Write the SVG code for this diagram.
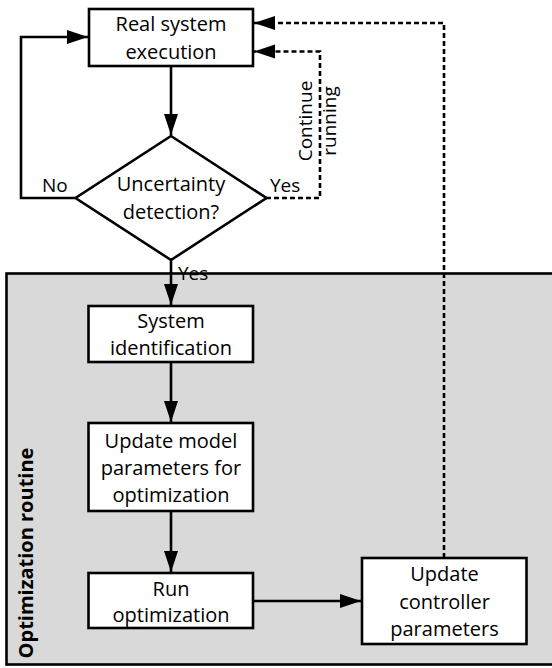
<svg xmlns="http://www.w3.org/2000/svg" width="552" height="668" viewBox="0 0 552 668">
<defs>
<style>
.box{fill:#fff;stroke:#000;stroke-width:2.6}
.t{font-family:"Open Sans","Liberation Sans",sans-serif;font-size:20px;fill:#000;text-anchor:middle}
.lbl{font-family:"Open Sans","Liberation Sans",sans-serif;font-size:19px;fill:#000}
.ln{fill:none;stroke:#000;stroke-width:2.6}
.dash{fill:none;stroke:#000;stroke-width:2.6;stroke-dasharray:5 3}
</style>
<marker id="ah" markerUnits="userSpaceOnUse" markerWidth="24" markerHeight="16" refX="21" refY="7" orient="auto">
<path d="M0,0 L21,7 L0,14 z" fill="#000"/>
</marker>
</defs>
<g id="optimization-routine">
<rect x="6.5" y="273.5" width="550" height="391" fill="#d9d9d9" stroke="#000" stroke-width="2.6"/>
<text transform="translate(33,553) rotate(-90)" font-family="Open Sans,Liberation Sans,sans-serif" font-size="20" font-weight="bold" text-anchor="middle">Optimization routine</text>
</g>
<g id="connectors">
<line class="ln" x1="171" y1="66" x2="171" y2="135" marker-end="url(#ah)"/>
<polyline class="ln" points="75,198 21,198 21,37 88,37" marker-end="url(#ah)"/>
<polyline class="dash" points="266,198 320,198 320,51.5 254,51.5" marker-end="url(#ah)"/>
<line class="ln" x1="171" y1="260" x2="171" y2="305" marker-end="url(#ah)"/>
<line class="ln" x1="171" y1="362" x2="171" y2="422" marker-end="url(#ah)"/>
<line class="ln" x1="171" y1="511" x2="171" y2="572" marker-end="url(#ah)"/>
<line class="ln" x1="253" y1="601" x2="361" y2="601" marker-end="url(#ah)"/>
<polyline class="dash" points="444,558 444,23 254,23" marker-end="url(#ah)"/>
<text class="lbl" x="42" y="192">No</text>
<text class="lbl" x="270" y="192">Yes</text>
<text class="lbl" x="178" y="280">Yes</text>
<text class="lbl" text-anchor="middle" transform="translate(312,121) rotate(-90)">Continue</text>
<text class="lbl" text-anchor="middle" transform="translate(336,121) rotate(-90)">running</text>
</g>
<g id="real-system-execution">
<rect class="box" x="89" y="9" width="164" height="57"/>
<text class="t" x="171" y="31">Real system</text>
<text class="t" x="171" y="58.5">execution</text>
</g>
<g id="uncertainty-detection">
<polygon class="box" points="171,136 266.5,198 171,260 75.5,198"/>
<text class="t" x="171" y="191">Uncertainty</text>
<text class="t" x="171" y="219">detection?</text>
</g>
<g id="system-identification">
<rect class="box" x="88.5" y="306" width="164.5" height="56"/>
<text class="t" x="171" y="328">System</text>
<text class="t" x="171" y="355">identification</text>
</g>
<g id="update-model-parameters">
<rect class="box" x="88.5" y="423" width="164.5" height="88"/>
<text class="t" x="171" y="447.5">Update model</text>
<text class="t" x="171" y="475">parameters for</text>
<text class="t" x="171" y="502">optimization</text>
</g>
<g id="run-optimization">
<rect class="box" x="88.5" y="573" width="164.5" height="55"/>
<text class="t" x="171" y="596">Run</text>
<text class="t" x="171" y="622">optimization</text>
</g>
<g id="update-controller-parameters">
<rect class="box" x="362" y="558" width="164.5" height="86"/>
<text class="t" x="444.5" y="581">Update</text>
<text class="t" x="444.5" y="608.5">controller</text>
<text class="t" x="444.5" y="635.5">parameters</text>
</g>
</svg>
